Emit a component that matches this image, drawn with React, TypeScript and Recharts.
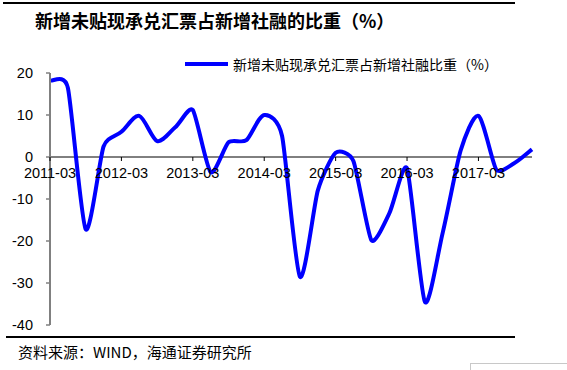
import React from "react";
import { LineChart, Line, XAxis, YAxis, ReferenceLine } from "recharts";

const quarters = [
  "2011-03", "2011-06", "2011-09", "2011-12",
  "2012-03", "2012-06", "2012-09", "2012-12",
  "2013-03", "2013-06", "2013-09", "2013-12",
  "2014-03", "2014-06", "2014-09", "2014-12",
  "2015-03", "2015-06", "2015-09", "2015-12",
  "2016-03", "2016-06", "2016-09", "2016-12",
  "2017-03", "2017-06", "2017-09", "2017-12",
];

const shareValues = [
  18.2, 16.5, -17.2, 2.5,
  6.0, 9.8, 3.8, 7.0,
  11.2, -3.6, 3.5, 4.0,
  10.0, 5.0, -28.5, -8.0,
  1.0, -1.0, -19.8, -13.5,
  -2.7, -34.5, -18.0, 1.5,
  9.8, -3.0, -1.5, 1.8,
];

const yTicks = [-40, -30, -20, -10, 0, 10, 20];

const seriesName = "新增未贴现承兑汇票占新增社融比重（%）";
const titleText = "新增未贴现承兑汇票占新增社融的比重（%）";
const sourceText = "资料来源：WIND，海通证券研究所";

const data = quarters.map((q, i) => ({ q, v: shareValues[i] }));

// layout
const W = 567;
const H = 370;
const PLOT_TOP = 73;
const PLOT_BOTTOM = 325;
const PLOT_LEFT = 50;
const PLOT_RIGHT = 532;
const X_AXIS_H = 30;
const Y_MIN = -40;
const Y_MAX = 20;
const ZERO_Y = PLOT_TOP + ((Y_MAX - 0) / (Y_MAX - Y_MIN)) * (PLOT_BOTTOM - PLOT_TOP);

// Excel-like smoothing: Catmull-Rom with tangents damped by neighbouring segment lengths
class SmoothCurve {
  _context: any;
  _pts: number[][] = [];
  _line: number = NaN;
  constructor(context: any) {
    this._context = context;
  }
  areaStart() {
    this._line = 0;
  }
  areaEnd() {
    this._line = NaN;
  }
  lineStart() {
    this._pts = [];
  }
  point(x: number, y: number) {
    this._pts.push([+x, +y]);
  }
  lineEnd() {
    const p = this._pts;
    const ctx = this._context;
    const n = p.length;
    if (n === 0) return;
    ctx.moveTo(p[0][0], p[0][1]);
    if (n === 1) return;
    const dist = (a: number[], b: number[]) => Math.hypot(b[0] - a[0], b[1] - a[1]);
    const tan: number[][] = p.map((pt, i) => {
      const prev = p[i - 1] || pt;
      const next = p[i + 1] || pt;
      let tx = (next[0] - prev[0]) / 6;
      let ty = (next[1] - prev[1]) / 6;
      if (i > 0 && i < n - 1) {
        const d1 = dist(prev, pt);
        const d2 = dist(pt, next);
        const f = (2 * Math.min(d1, d2)) / (d1 + d2);
        tx *= Math.max(f, 0.6);
        ty *= Math.max(f, 0.6);
      }
      return [tx, ty];
    });
    for (let i = 0; i < n - 1; i++) {
      const p1 = p[i];
      const p2 = p[i + 1];
      ctx.bezierCurveTo(
        p1[0] + tan[i][0],
        p1[1] + tan[i][1],
        p2[0] - tan[i + 1][0],
        p2[1] - tan[i + 1][1],
        p2[0],
        p2[1]
      );
    }
  }
}
const smoothFactory: any = (context: any) => new SmoothCurve(context);

const renderXTick = (props: any) => {
  const { x, payload } = props;
  return (
    <g>
      <line x1={x} x2={x} y1={ZERO_Y} y2={ZERO_Y + 4} stroke="#000" strokeWidth={1} />
      <text
        x={x}
        y={ZERO_Y + 21}
        textAnchor="middle"
        fontFamily="'Liberation Sans', Arial, sans-serif"
        fontSize={14.5}
        fill="#000"
      >
        {payload.value}
      </text>
    </g>
  );
};

export default function App() {
  return (
    <div
      style={{
        position: "absolute",
        left: 0,
        top: 0,
        width: W,
        height: H,
        background: "#fff",
        overflow: "hidden",
      }}
    >
      <div
        style={{
          position: "absolute",
          left: 3,
          top: 2,
          width: 512,
          height: 2,
          background: "#000",
        }}
      />
      <div
        style={{
          position: "absolute",
          left: 35,
          top: 8,
          fontFamily: "'Noto Sans CJK SC', sans-serif",
          fontWeight: 700,
          fontSize: 18,
          lineHeight: "24px",
          color: "#000",
          whiteSpace: "nowrap",
        }}
      >
        {titleText}
      </div>

      <div style={{ position: "absolute", left: 0, top: 0 }}>
        <LineChart
          width={W}
          height={H}
          data={data}
          margin={{
            top: PLOT_TOP,
            right: W - PLOT_RIGHT,
            bottom: H - PLOT_BOTTOM - X_AXIS_H,
            left: 0,
          }}
        >
          <XAxis
            dataKey="q"
            height={X_AXIS_H}
            axisLine={false}
            tickLine={false}
            interval={3}
            tick={renderXTick}
          />
          <YAxis
            width={PLOT_LEFT}
            domain={[Y_MIN, Y_MAX]}
            ticks={yTicks}
            interval={0}
            allowDataOverflow
            axisLine={{ stroke: "#808080", strokeWidth: 2 }}
            tickLine={{ stroke: "#808080", strokeWidth: 1.5 }}
            tickSize={4}
            tickMargin={13}
            tick={{
              fill: "#000",
              fontSize: 14.5,
              fontFamily: "'Liberation Sans', Arial, sans-serif",
            }}
          />
          <ReferenceLine y={0} stroke="#000" strokeWidth={1} />
          <Line
            dataKey="v"
            name={seriesName}
            type={smoothFactory}
            stroke="#0000FF"
            strokeWidth={4}
            dot={false}
            activeDot={false}
            isAnimationActive={false}
          />
        </LineChart>
      </div>

      <div
        style={{
          position: "absolute",
          left: 185,
          top: 54,
          display: "flex",
          alignItems: "center",
          whiteSpace: "nowrap",
        }}
      >
        <div style={{ width: 43, height: 4, background: "#0000FF", marginRight: 5 }} />
        <span
          style={{
            fontFamily: "'Noto Sans CJK SC', sans-serif",
            fontSize: 14,
            lineHeight: "20px",
            color: "#000",
          }}
        >
          {seriesName}
        </span>
      </div>

      <div
        style={{
          position: "absolute",
          left: 6,
          top: 336,
          width: 509,
          height: 2,
          background: "#000",
        }}
      />
      <div
        style={{
          position: "absolute",
          left: 18,
          top: 342,
          fontFamily: "'Noto Sans CJK SC', sans-serif",
          fontSize: 15,
          lineHeight: "20px",
          color: "#000",
          whiteSpace: "nowrap",
        }}
      >
        {sourceText}
      </div>
      <div
        style={{
          position: "absolute",
          left: 470,
          top: 363,
          width: 120,
          height: 20,
          border: "1px solid #c8c8c8",
          background: "#fff",
        }}
      />
    </div>
  );
}
